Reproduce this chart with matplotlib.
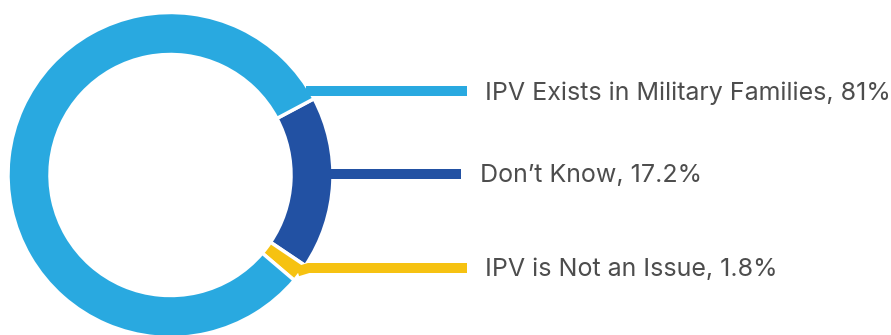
import numpy as np
import matplotlib
matplotlib.use("Agg")
import matplotlib.pyplot as plt

labels = ["Don\u2019t Know", "IPV is Not an Issue", "IPV Exists in Military Families"]
values = [17.2, 1.8, 81.0]
value_text = ["17.2%", "1.8%", "81%"]
colors = ["#2251A3", "#F6C211", "#29A9E0"]

W, H = 891, 335
fig = plt.figure(figsize=(W / 100, H / 100), dpi=100)
ax = fig.add_axes([0, 0, 1, 1])

cx, cy = 170.5, H - 175
R = 162.5
ring = 42
start = 28

wedges, _ = ax.pie(values, colors=colors, startangle=start, counterclock=False,
                   radius=R, center=(cx, cy), frame=True,
                   wedgeprops=dict(width=ring, edgecolor="white", linewidth=2.5))
for w in wedges:
    w.set_zorder(2)
ax.set_xlim(0, W)
ax.set_ylim(0, H)
ax.set_aspect("equal")
ax.axis("off")

# label layout (pixel rows from top)
label_rows = {0: 174, 1: 268, 2: 91}
line_end = {0: 461, 1: 467, 2: 467}
text_x = {0: 480, 1: 485, 2: 485}
lw = 7.2

for i, w in enumerate(wedges):
    y = H - label_rows[i]
    mid = np.deg2rad((w.theta1 + w.theta2) / 2)
    if i == 1:
        ox, oy = cx + (R - 3) * np.cos(mid), cy + (R - 3) * np.sin(mid)
        xs = [ox, ox + 11, line_end[i]]
        ys = [oy, y, y]
        ax.plot(xs, ys, color=colors[i], lw=lw, solid_capstyle="butt",
                solid_joinstyle="miter", zorder=3)
    else:
        dy = y - cy
        r0 = R - 3
        x0 = cx + np.sqrt(max(r0 ** 2 - dy ** 2, 0))
        ax.plot([x0, line_end[i]], [y, y], color=colors[i], lw=lw,
                solid_capstyle="butt", zorder=3)
    ax.text(text_x[i], y - 2, f"{labels[i]}, {value_text[i]}", ha="left", va="center",
            fontsize=18, family=["Inter", "DejaVu Sans"], color="#4D4D4D")

fig.savefig("out.png", dpi=100)
